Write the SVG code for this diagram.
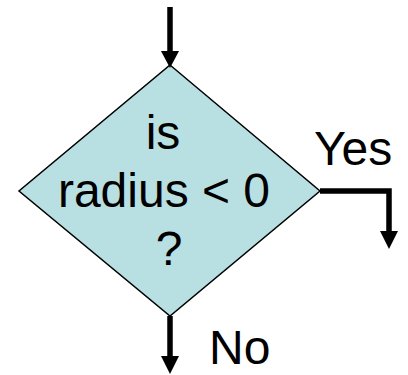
<svg xmlns="http://www.w3.org/2000/svg" width="408" height="375" viewBox="0 0 408 375">
<style>
.t{font-family:"Liberation Sans",Arial,sans-serif;font-size:48px;fill:#000}
.c{fill:none;stroke:#000;stroke-width:5.5}
</style>
<rect width="408" height="375" fill="#fff"/>
<g id="decision">
<polygon points="170,65 320,191 170,316 19,191" fill="#b8dfe2" stroke="#000" stroke-width="1.5"/>
<text class="t" x="163" y="149" text-anchor="middle">is</text>
<text class="t" x="164" y="207" text-anchor="middle">radius &lt; 0</text>
<text class="t" x="169" y="265" text-anchor="middle">?</text>
</g>
<g id="connectors">
<path class="c" d="M170,7 V52"/>
<path d="M161,51 L179,51 L170,68 Z" fill="#000"/>
<path class="c" d="M320,191 H389 V233"/>
<path d="M380,231 L398,231 L389,249 Z" fill="#000"/>
<path class="c" d="M170,316 V358"/>
<path d="M161,356 L179,356 L170,374 Z" fill="#000"/>
</g>
<g id="labels">
<text class="t" x="314" y="165">Yes</text>
<text class="t" x="209" y="364">No</text>
</g>
</svg>
